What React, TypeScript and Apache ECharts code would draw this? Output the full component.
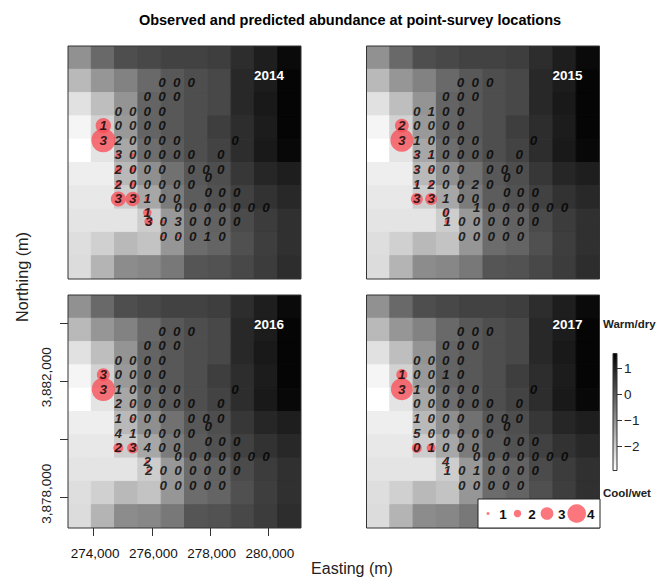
import React, { useEffect, useRef } from "react";
import * as echarts from "echarts";

const FONT = '"Liberation Sans", Arial, sans-serif';

const years = ["2014", "2015", "2016", "2017"];

// Climate index raster (rows north to south, columns west to east)
const rasterValues = [
  [-0.99, -0.28, 0.19, 0.3, 0.4, 0.4, 0.47, 0.77, 1.04, 1.39],
  [-1.69, -1.07, -0.72, -0.28, 0.02, 0.2, 0.3, 0.86, 1.07, 1.48],
  [-2.39, -1.78, -1.03, -0.19, 0.02, 0.2, 0.3, 0.86, 1.12, 1.48],
  [-2.74, -2.13, -1.12, -0.19, 0.02, 0.2, 0.47, 0.77, 1.07, 1.48],
  [-2.92, -2.45, -1.38, -0.37, -0.06, 0.2, 0.38, 0.77, 1.12, 1.42],
  [-2.62, -2.62, -1.69, -0.95, -0.42, 0.02, 0.2, 0.6, 0.9, 1.04],
  [-2.52, -2.52, -2.04, -1.38, -0.6, -0.06, 0.12, 0.42, 0.69, 0.86],
  [-2.45, -2.45, -2.45, -2.04, -1.1, -0.33, -0.15, 0.25, 0.51, 0.72],
  [-2.34, -2.09, -1.69, -1.87, -1.07, -0.33, -0.19, 0.16, 0.47, 0.72],
  [-2.3, -1.6, -0.9, -0.81, -0.55, 0.07, 0.12, 0.3, 0.51, 0.77],
];

// Survey sites, grouped by row
const rowNorthings = [
  3883713, 3883209, 3882717, 3882225, 3881722, 3881218, 3880715, 3880440, 3880211, 3879925, 3879708, 3879422,
  3879238, 3878929, 3878426,
];
const rowEastings = [
  [276347, 276851, 277354],
  [275843, 276347, 276851],
  [274848, 275340, 275843, 276347],
  [274333, 274848, 275340, 275843, 276347],
  [274333, 274848, 275340, 275843, 276347, 276851, 278853],
  [274848, 275340, 275843, 276347, 276851, 277354, 278361],
  [274848, 275340, 275843, 276347, 277354, 277858, 278361],
  [277938],
  [274848, 275340, 275843, 276347, 276851, 277354],
  [277938, 278407, 278910],
  [274848, 275340, 275843, 276347, 276851],
  [276896, 277400, 277903, 278407, 278910, 279414, 279917],
  [275843],
  [275889, 276393, 276896, 277400, 277903, 278407, 278910],
  [276393, 276896, 277400, 277903, 278407],
];

// Counts printed at each site
const counts2014 = [
  [0, 0, 0], [0, 0, 0], [0, 0, 0, 0], [1, 0, 0, 0, 0], [3, 2, 0, 0, 0, 0, 0], [3, 0, 0, 0, 0, 0, 0],
  [2, 0, 0, 0, 0, 0, 0], [0], [2, 0, 0, 0, 0, 0], [0, 0, 0], [3, 3, 1, 0, 0], [0, 0, 0, 0, 0, 0, 0],
  [1], [3, 0, 3, 0, 0, 0, 0], [0, 0, 0, 1, 0],
];
const counts2015 = [
  [0, 0, 0], [0, 0, 0], [0, 1, 0, 0], [2, 0, 0, 0, 0], [3, 1, 0, 0, 0, 0, 0], [3, 1, 0, 0, 0, 0, 0],
  [3, 0, 0, 0, 0, 0, 0], [0], [1, 2, 0, 0, 2, 0], [0, 0, 0], [3, 3, 1, 0, 0], [1, 0, 0, 0, 0, 0, 0],
  [0], [1, 0, 0, 0, 0, 0, 0], [0, 0, 0, 0, 0],
];
const counts2016 = [
  [0, 0, 0], [0, 0, 0], [0, 0, 0, 0], [3, 0, 0, 0, 0], [3, 1, 0, 0, 0, 0, 0], [2, 0, 0, 0, 0, 0, 0],
  [1, 0, 0, 0, 0, 0, 0], [0], [4, 1, 0, 0, 0, 0], [0, 0, 0], [2, 3, 4, 0, 0], [0, 0, 0, 0, 0, 0, 0],
  [2], [2, 0, 0, 0, 0, 0, 0], [0, 0, 0, 0, 0],
];
const counts2017 = [
  [0, 0, 0], [0, 0, 0], [0, 0, 0, 0], [1, 0, 0, 1, 0], [3, 1, 0, 0, 0, 0, 0], [0, 0, 0, 0, 0, 0, 0],
  [1, 0, 0, 0, 0, 0, 0], [0], [5, 0, 0, 0, 0, 0], [0, 0, 0], [0, 1, 0, 0, 0], [0, 0, 0, 0, 0, 0, 0],
  [4], [1, 0, 1, 0, 0, 0, 0], [0, 0, 0, 0, 0],
];
const countsByYear = [counts2014, counts2015, counts2016, counts2017];

// Estimated abundance at sites with a bubble: [row, column in row, abundance]
const bubbles2014 = [
  [3, 0, 3.46], [4, 0, 4.86], [5, 0, 1.47], [5, 1, 1.24], [6, 0, 1.9], [6, 1, 1.6], [8, 0, 1.7], [8, 1, 1.6],
  [10, 0, 3.4], [10, 1, 3.3], [10, 2, 1.24], [12, 0, 2.2], [13, 0, 2.2], [13, 1, 1.0], [13, 2, 0.73],
  [14, 0, 1.0], [14, 1, 1.0],
];
const bubbles2015 = [
  [3, 0, 3.2], [4, 0, 4.7], [5, 0, 1.24], [5, 1, 1.0], [6, 0, 1.24], [6, 1, 1.24], [8, 0, 1.24], [8, 1, 1.47],
  [10, 0, 2.87], [10, 1, 2.87], [12, 0, 1.69], [13, 0, 1.47],
];
const bubbles2016 = [
  [3, 0, 3.05], [4, 0, 4.75], [5, 0, 0.73], [5, 1, 0.73], [6, 0, 0.73], [6, 1, 1.0], [8, 1, 0.73], [10, 0, 2.5],
  [10, 1, 2.7], [12, 0, 1.24], [13, 0, 1.24],
];
const bubbles2017 = [
  [3, 0, 2.7], [4, 0, 4.54], [6, 0, 0.73], [6, 1, 0.73], [8, 0, 0.73], [8, 1, 0.73], [10, 0, 2.5], [10, 1, 2.3],
  [12, 0, 1.0], [13, 0, 1.0],
];
const bubblesByYear = [bubbles2014, bubbles2015, bubbles2016, bubbles2017];

const eastingTicks = [274000, 276000, 278000, 280000];
const northingTicks = [3878000, 3880000, 3882000, 3884000];
const northingLabels = [3878000, 3882000];
const colorbarTicks = [-2, -1, 0, 1];
const legendLevels = [1, 2, 3, 4];

const X_MIN = 273120;
const Y_MIN = 3876960;
const SPAN = 8000;
const CELL = 800;
const C_MIN = -2.92;
const C_MAX = 1.565;

const PANEL = 233;
const panelLeft = [68, 366.5, 68, 366.5];
const panelTop = [46, 46, 295, 295];
const BUBBLE = "#f94a52";

const radius = (a: number) => 1.5 * Math.pow(a, 1.316);
const gray = (v: number) => {
  const g = Math.round((255 * (C_MAX - v)) / (C_MAX - C_MIN));
  const c = Math.max(0, Math.min(255, g));
  return `rgb(${c},${c},${c})`;
};
const fmt = (v: number) => Math.round(v).toLocaleString("en-US");

const rasterData: number[][] = [];
rasterValues.forEach((row, r) =>
  row.forEach((v, c) => rasterData.push([X_MIN + CELL * (c + 0.5), Y_MIN + SPAN - CELL * (r + 0.5), v]))
);

function buildOption() {
  const grid: any[] = [];
  const xAxis: any[] = [];
  const yAxis: any[] = [];
  const series: any[] = [];

  years.forEach((_, i) => {
    const labelled = i === 2;
    grid.push({
      left: panelLeft[i],
      top: panelTop[i],
      width: PANEL,
      height: PANEL,
      show: true,
      z: 10,
      backgroundColor: "transparent",
      borderColor: "#333",
      borderWidth: 1,
    });
    xAxis.push({
      type: "value",
      gridIndex: i,
      min: X_MIN,
      max: X_MIN + SPAN,
      show: labelled,
      splitLine: { show: false },
      axisLine: { show: false },
      axisTick: { show: true, length: 8, customValues: eastingTicks, lineStyle: { color: "#333", width: 1 } },
      axisLabel: {
        show: true,
        customValues: eastingTicks,
        formatter: fmt,
        margin: 18,
        padding: [0, 0, 0, 3],
        color: "#111",
        fontFamily: FONT,
        fontSize: 13.5,
      },
    });
    yAxis.push({
      type: "value",
      gridIndex: i,
      min: Y_MIN,
      max: Y_MIN + SPAN,
      show: labelled,
      splitLine: { show: false },
      axisLine: { show: false },
      axisTick: { show: true, length: 8, customValues: northingTicks, lineStyle: { color: "#333", width: 1 } },
      axisLabel: {
        show: true,
        customValues: northingLabels,
        formatter: fmt,
        rotate: 90,
        margin: 15,
        padding: [0, 0, 0, 8],
        color: "#222",
        fontFamily: FONT,
        fontSize: 13.5,
      },
    });
    series.push({
      type: "custom",
      xAxisIndex: i,
      yAxisIndex: i,
      clip: true,
      silent: true,
      z: 1,
      data: rasterData,
      renderItem: (_p: any, api: any) => {
        const e = api.value(0);
        const n = api.value(1);
        const a = api.coord([e - CELL / 2, n + CELL / 2]);
        const b = api.coord([e + CELL / 2, n - CELL / 2]);
        const fill = gray(api.value(2));
        return {
          type: "rect",
          shape: { x: a[0], y: a[1], width: b[0] - a[0], height: b[1] - a[1] },
          style: { fill, stroke: fill, lineWidth: 1 },
        };
      },
    });
    series.push({
      type: "scatter",
      xAxisIndex: i,
      yAxisIndex: i,
      silent: true,
      z: 3,
      symbol: "circle",
      symbolSize: (d: number[]) => 2 * radius(d[2]),
      itemStyle: { color: BUBBLE, opacity: 0.75 },
      data: bubblesByYear[i].map(([r, c, a]) => [rowEastings[r][c], rowNorthings[r], a]),
    });
    const sites: number[][] = [];
    countsByYear[i].forEach((row, r) => row.forEach((n, c) => sites.push([rowEastings[r][c], rowNorthings[r], n])));
    series.push({
      type: "scatter",
      xAxisIndex: i,
      yAxisIndex: i,
      silent: true,
      z: 4,
      symbol: "circle",
      symbolSize: 1,
      itemStyle: { color: "transparent" },
      label: {
        show: true,
        position: "inside",
        formatter: (p: any) => String(p.value[2]),
        color: "#000",
        fontFamily: FONT,
        fontSize: 13.5,
        fontWeight: "bold",
        fontStyle: "italic",
        textBorderWidth: 0,
        textBorderColor: "transparent",
      },
      labelLayout: { hideOverlap: false },
      data: sites,
    });
  });

  // Colour bar
  grid.push({ left: 613, top: 353.5, width: 4, height: 117, show: false });
  xAxis.push({ type: "value", gridIndex: 4, min: 0, max: 1, show: false });
  yAxis.push({
    type: "value",
    gridIndex: 4,
    position: "right",
    min: C_MIN,
    max: C_MAX,
    splitLine: { show: false },
    axisLine: { show: false },
    axisTick: { show: true, length: 9, customValues: colorbarTicks, lineStyle: { color: "#333", width: 1 } },
    axisLabel: {
      show: true,
      customValues: colorbarTicks,
      formatter: (v: number) => String(Math.round(v)).replace("-", "\u2212"),
      margin: 7,
      color: "#222",
      fontFamily: FONT,
      fontSize: 13.5,
    },
  });
  series.push({
    type: "custom",
    xAxisIndex: 4,
    yAxisIndex: 4,
    silent: true,
    clip: false,
    data: [[0, C_MIN, 1, C_MAX]],
    renderItem: (_p: any, api: any) => {
      const a = api.coord([api.value(0), api.value(3)]);
      const b = api.coord([api.value(2), api.value(1)]);
      return {
        type: "rect",
        shape: { x: a[0], y: a[1], width: b[0] - a[0], height: b[1] - a[1] },
        style: {
          fill: new echarts.graphic.LinearGradient(0, 0, 0, 1, [
            { offset: 0, color: "#000" },
            { offset: 1, color: "#fff" },
          ]),
          stroke: "#333",
          lineWidth: 1,
        },
      };
    },
  });

  const text = (
    x: number,
    y: number,
    t: string,
    fontSize: number,
    fill: string,
    fontWeight: string,
    textAlign = "center",
    rotation = 0
  ) => ({
    type: "text",
    x,
    y,
    rotation,
    z: 100,
    silent: true,
    style: { text: t, fontFamily: FONT, fontSize, fontWeight, fill, textAlign, textVerticalAlign: "middle" },
  });

  const legendCx = [488, 517.5, 547, 576.7];
  const legendTx = [503, 532, 561.7, 590.7];
  const graphicEls: any[] = [
    text(350, 20, "Observed and predicted abundance at point-survey locations", 14.5, "#000", "bold"),
    text(352, 568, "Easting (m)", 16, "#222", "normal"),
    text(22, 277, "Northing (m)", 16.2, "#222", "normal", "center", Math.PI / 2),
    text(603, 324, "Warm/dry", 11.5, "#222", "bold", "left"),
    text(603, 492.5, "Cool/wet", 11.5, "#222", "bold", "left"),
    ...years.map((y, i) => text(panelLeft[i] + 201, panelTop[i] + 29, y, 13.5, "#fff", "bold")),
    {
      type: "rect",
      z: 100,
      silent: true,
      shape: { x: 478, y: 499, width: 122, height: 29 },
      style: { fill: "#fff", stroke: "#222", lineWidth: 1 },
    },
    ...legendLevels.map((a, i) => ({
      type: "circle",
      z: 101,
      silent: true,
      shape: { cx: legendCx[i], cy: 513.5, r: radius(a) },
      style: { fill: BUBBLE, opacity: 0.75 },
    })),
    ...legendLevels.map((a, i) => ({ ...text(legendTx[i], 514, String(a), 13.5, "#111", "bold"), z: 102 })),
  ];

  return {
    animation: false,
    backgroundColor: "#fff",
    grid,
    xAxis,
    yAxis,
    series,
    graphic: { elements: graphicEls },
  };
}

export default function App() {
  const ref = useRef<HTMLDivElement>(null);
  useEffect(() => {
    const chart = echarts.init(ref.current!, undefined, { renderer: "svg" });
    chart.setOption(buildOption() as any);
    return () => chart.dispose();
  }, []);
  return <div ref={ref} style={{ position: "fixed", left: 0, top: 0, width: 666, height: 579 }} />;
}
